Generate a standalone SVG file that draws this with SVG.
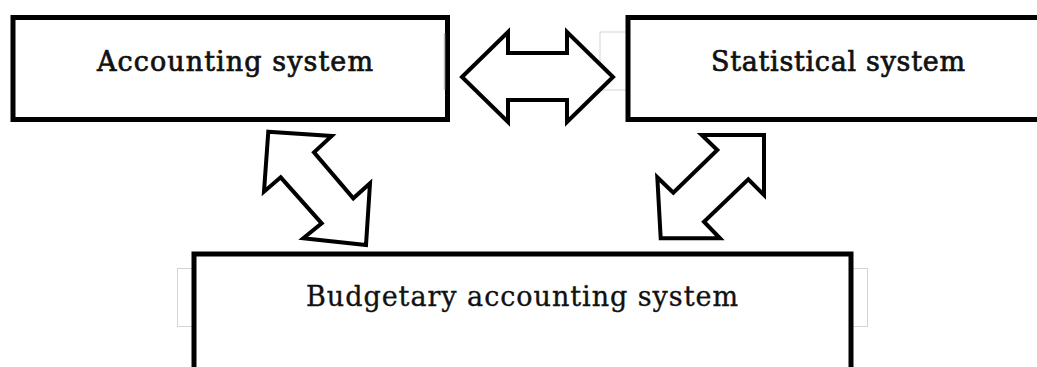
<svg xmlns="http://www.w3.org/2000/svg" width="1037" height="367" viewBox="0 0 1037 367">
  <style>
    .box { fill: #ffffff; stroke: #000000; stroke-width: 5; }
    .frame { fill: none; stroke: #d4d4d4; stroke-width: 1; }
    .arrow { fill: #ffffff; stroke: #000000; stroke-width: 4; stroke-linejoin: miter; }
    .label { font-family: "DejaVu Serif", "Liberation Serif", serif; font-size: 27px; fill: #111111; }
    .heavy { stroke: #111111; stroke-width: 0.7; }
    .medium { stroke: #111111; stroke-width: 0.35; }
  </style>
  <rect width="1037" height="367" fill="#ffffff"/>

  <!-- faint text-frame outlines behind the boxes -->
  <rect class="frame" x="600" y="32" width="60" height="58"/>
  <rect class="frame" x="177.5" y="268.5" width="690" height="58"/>

  <g id="accounting">
    <rect class="box" x="13" y="17.5" width="434.5" height="102"/>
    <line x1="444.5" y1="33" x2="444.5" y2="90" stroke="#bdbdbd" stroke-width="1.5"/>
    <text class="label heavy" x="97" y="70.5" textLength="276" lengthAdjust="spacing">Accounting system</text>
  </g>

  <g id="statistical">
    <rect class="box" x="628" y="17.5" width="430" height="102"/>
    <text class="label heavy" x="711" y="70.5" textLength="254" lengthAdjust="spacing">Statistical system</text>
  </g>

  <g id="budgetary">
    <rect class="box" x="194" y="254" width="657" height="200"/>
    <text class="label medium" x="306" y="306" textLength="432" lengthAdjust="spacing">Budgetary accounting system</text>
  </g>

  <g id="connectors">
    <!-- accounting <-> statistical -->
    <polygon class="arrow" points="462,77 508,32 508,53 567,53 567,32 613,77 567,122 567,100 508,100 508,122"/>
    <!-- accounting <-> budgetary -->
    <polygon class="arrow" points="268.3,131.7 331.7,136 314,152.3 353.3,198.3 370,183.3 366,245 303.3,238.3 321.7,223.3 280.7,177.3 264,191.7"/>
    <!-- statistical <-> budgetary -->
    <polygon class="arrow" points="764,135 701.7,135 717.3,150 673.3,192.7 657.3,177.3 660.7,238.3 720,238.3 704,221.7 748.3,179.3 764,195"/>
  </g>
</svg>
